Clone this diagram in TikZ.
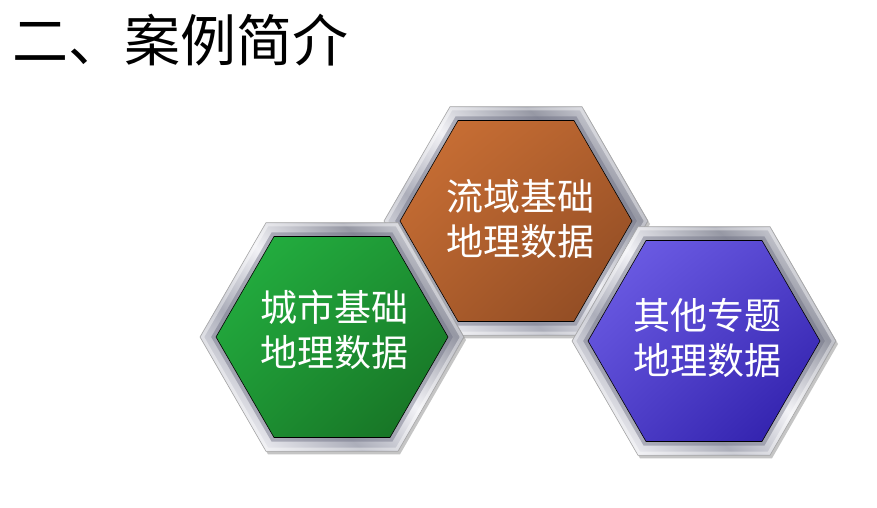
\documentclass[tikz,border=0pt]{standalone}
\usepackage{fontspec}
\setmainfont{Noto Sans CJK SC}
\usetikzlibrary{shadings}
\definecolor{metA}{RGB}{150,152,164}
\definecolor{metB}{RGB}{172,174,186}
\definecolor{metW}{RGB}{242,242,246}
\definecolor{metD}{RGB}{110,112,132}
\definecolor{greenL}{RGB}{36,180,66}
\definecolor{greenD}{RGB}{22,108,34}
\definecolor{brownL}{RGB}{206,114,54}
\definecolor{brownD}{RGB}{138,72,34}
\definecolor{blueL}{RGB}{114,98,234}
\definecolor{blueD}{RGB}{42,26,166}
\pgfdeclarehorizontalshading{metal}{100bp}{color(0bp)=(metA); color(22bp)=(metW); color(38bp)=(metB); color(52bp)=(metW); color(68bp)=(metA); color(84bp)=(metW); color(100bp)=(metA)}
\def\hexp#1{(0:#1) -- (60:#1) -- (120:#1) -- (180:#1) -- (240:#1) -- (300:#1) -- cycle}
\tikzset{
  txt/.style={text=white, align=center, font=\fontsize{37}{45}\selectfont, inner sep=0pt},
  frameout/.style={shading=metal, shading angle=45, draw=gray!70, line width=0.6pt},
}
% #1 cx, #2 cy, #3 light, #4 dark, #5 name, #6 tx, #7 ty, #8 text
\newcommand\hexunit[8]{%
  \begin{scope}[shift={(#1,#2)}]
    \begin{scope}[shift={(2,3)}]
      \fill[black!45, opacity=.5] \hexp{132};
    \end{scope}
    \shade[frameout] \hexp{132};
    \draw[white, opacity=.4, line width=3pt] \hexp{129.5};
    \draw[metD, opacity=.45, line width=4pt] \hexp{118.5};
    \shade[upper left=#3, lower right=#4, upper right=#3!55!#4, lower left=#3!55!#4, draw=black, line width=0.6pt] \hexp{116};
    \node[txt] (#5) at (#6,#7) {#8};
  \end{scope}}
\begin{document}
\begin{tikzpicture}[x=1pt,y=-1pt]
  \useasboundingbox[fill=white] (0,0) rectangle (877,508);
  \node[anchor=base west, inner sep=0pt, font=\fontsize{56}{60}\selectfont] (title) at (12,62) {二、案例简介};
  \hexunit{516}{221}{brownL}{brownD}{brown}{4}{-2}{流域基础\\地理数据}
  \hexunit{332}{337}{greenL}{greenD}{green}{2}{-7}{城市基础\\地理数据}
  \hexunit{704}{341}{blueL}{blueD}{blue}{3}{-3}{其他专题\\地理数据}
\end{tikzpicture}
\end{document}
